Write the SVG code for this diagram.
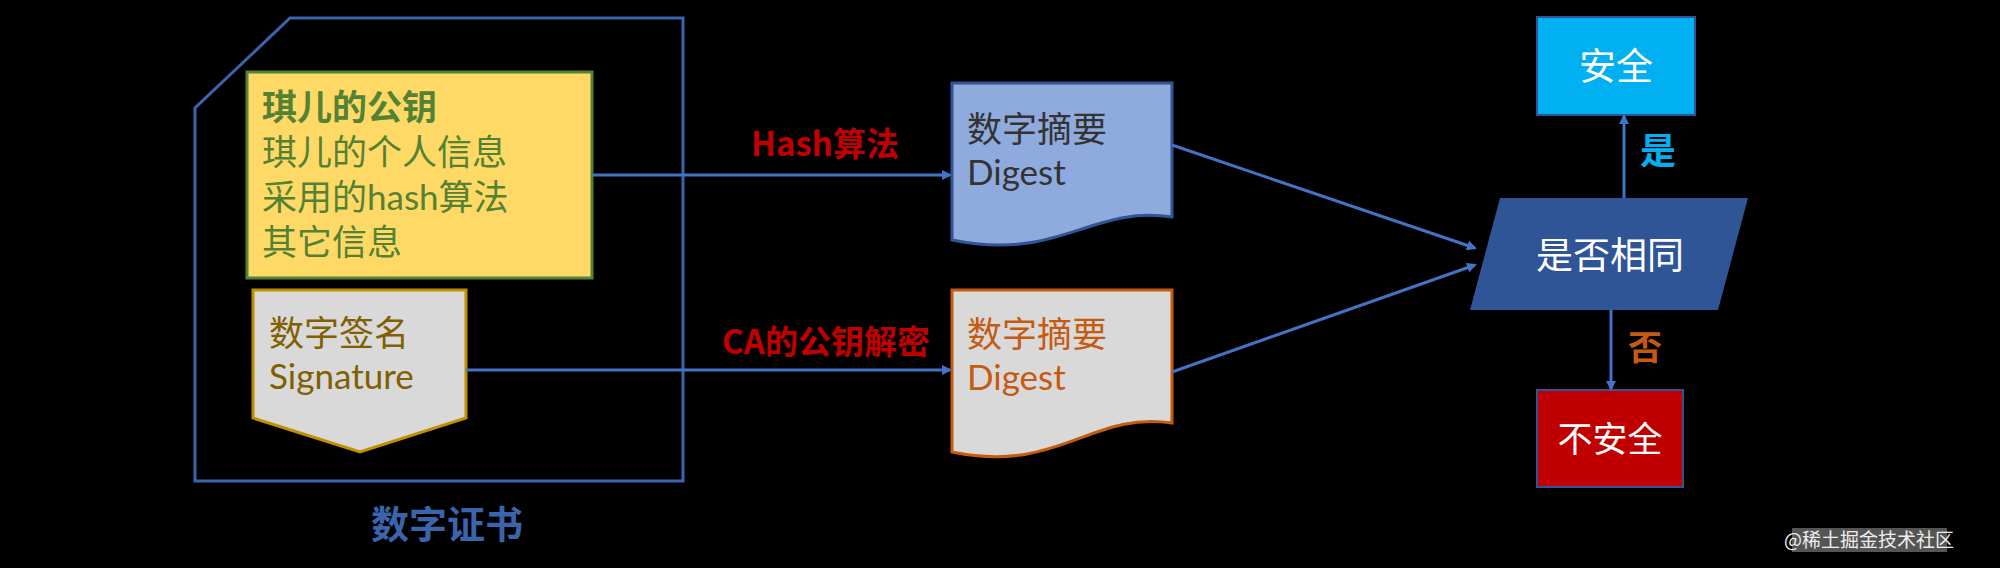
<svg xmlns="http://www.w3.org/2000/svg" width="2000" height="568" viewBox="0 0 2000 568">
<defs>
<marker id="arr" markerWidth="10" markerHeight="10" refX="8" refY="5" orient="auto" markerUnits="userSpaceOnUse"><path d="M0,0 L10,5 L0,10 Z" fill="#4472C4"/></marker>
<style>
text{font-family:"Noto Sans CJK SC","Noto Sans",sans-serif;}
.t36{font-size:35px;font-family:"Lato","Noto Sans CJK SC",sans-serif;}
.lbl{font-size:33px;font-weight:bold;}
.conn{stroke:#4472C4;stroke-width:3;fill:none;}
</style>
</defs>
<rect x="0" y="0" width="2000" height="568" fill="#000"/>
<g id="certificate">
<path d="M290,18 H683 V481 H195 V108 Z" fill="none" stroke="#3B64AD" stroke-width="3"/>
<text x="447" y="538" text-anchor="middle" font-size="38" font-weight="bold" fill="#3B64AD">数字证书</text>
</g>
<g id="pubkey">
<rect x="247" y="72" width="345" height="206" fill="#FFD966" stroke="#548235" stroke-width="3"/>
<text x="262" y="120" class="t36" fill="#548235"><tspan font-weight="bold">琪儿的公钥</tspan><tspan x="262" dy="45">琪儿的个人信息</tspan><tspan x="262" dy="45">采用的hash算法</tspan><tspan x="262" dy="45">其它信息</tspan></text>
</g>
<g id="signature">
<path d="M253,290 H466 V418 L360,452 L253,418 Z" fill="#D9D9D9" stroke="#BF9000" stroke-width="3"/>
<text x="269" y="346" class="t36" fill="#806000">数字签名<tspan x="269" dy="43">Signature</tspan></text>
</g>
<g id="digest1">
<path d="M952,83 H1172 V217 C1090,205 1060,262 952,240 Z" fill="#8FAADC" stroke="#2F5597" stroke-width="3"/>
<text x="967" y="142" class="t36" fill="#333">数字摘要<tspan x="967" dy="43">Digest</tspan></text>
</g>
<g id="digest2">
<path d="M952,290 H1172 V423 C1090,411 1060,474 952,452 Z" fill="#D9D9D9" stroke="#C55A11" stroke-width="3"/>
<text x="967" y="347" class="t36" fill="#C55A11">数字摘要<tspan x="967" dy="43">Digest</tspan></text>
</g>
<g id="compare">
<path d="M1500,198 H1748 L1718,310 H1470 Z" fill="#2F5597"/>
<text x="1610" y="269" text-anchor="middle" font-size="37" fill="#fff">是否相同</text>
</g>
<g id="safe">
<rect x="1537" y="17" width="158" height="98" fill="#00B0F0" stroke="#2F5597" stroke-width="2"/>
<text x="1616" y="80" text-anchor="middle" font-size="37" fill="#fff">安全</text>
</g>
<g id="unsafe">
<rect x="1537" y="390" width="146" height="97" fill="#C00000" stroke="#2F5597" stroke-width="2"/>
<text x="1610" y="452" text-anchor="middle" font-size="35" fill="#fff">不安全</text>
</g>
<g id="connectors">
<line x1="592" y1="175" x2="950" y2="175" class="conn" marker-end="url(#arr)"/>
<line x1="466" y1="370" x2="950" y2="370" class="conn" marker-end="url(#arr)"/>
<line x1="1172" y1="145" x2="1475" y2="248" class="conn" marker-end="url(#arr)"/>
<line x1="1172" y1="372" x2="1475" y2="265" class="conn" marker-end="url(#arr)"/>
<line x1="1624" y1="198" x2="1624" y2="116" class="conn" marker-end="url(#arr)"/>
<line x1="1611" y1="310" x2="1611" y2="389" class="conn" marker-end="url(#arr)"/>
<text x="825" y="156" text-anchor="middle" class="lbl" fill="#C00000">Hash算法</text>
<text x="826" y="354" text-anchor="middle" class="lbl" fill="#C00000">CA的公钥解密</text>
<text x="1640" y="164" font-size="36" font-weight="bold" fill="#00B0F0">是</text>
<text x="1628" y="360" font-size="34" font-weight="bold" fill="#C55A11">否</text>
</g>
<g id="watermark">
<rect x="1792" y="528" width="155" height="24" fill="#555"/>
<text x="1869" y="547" text-anchor="middle" font-size="19" fill="#eee">@稀土掘金技术社区</text>
</g>
</svg>
